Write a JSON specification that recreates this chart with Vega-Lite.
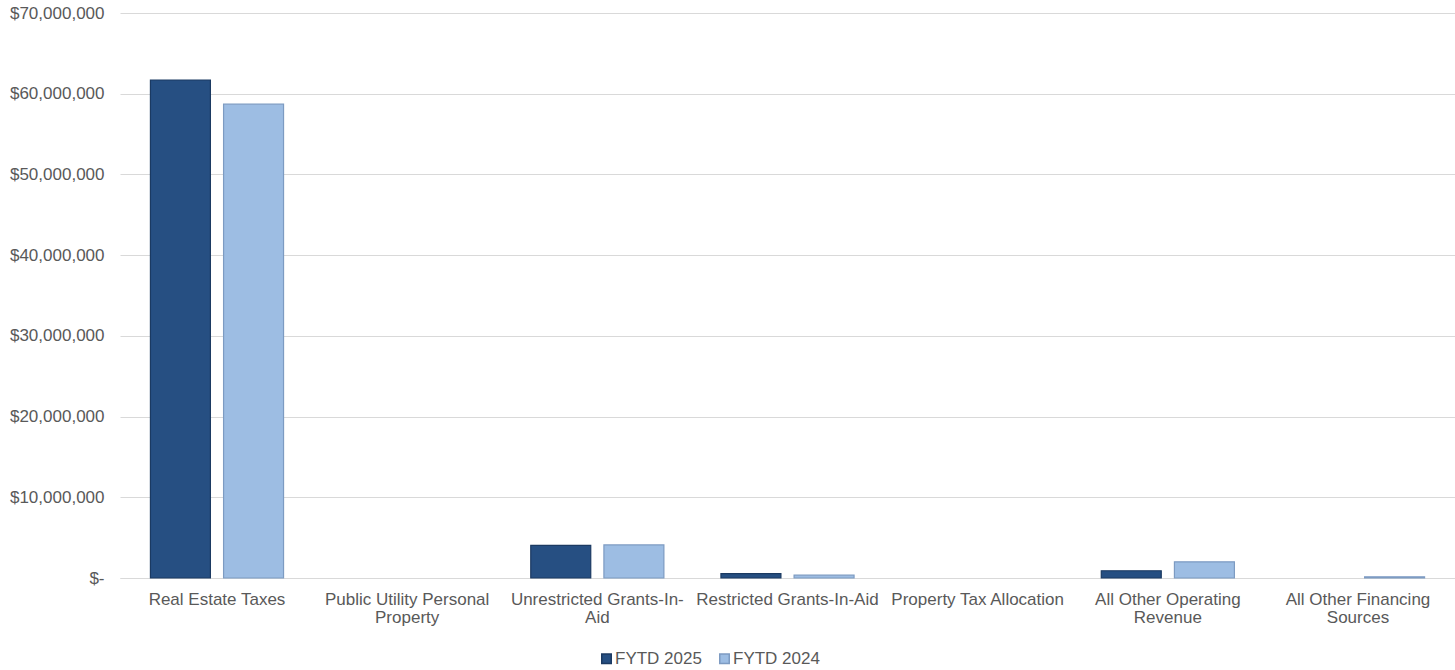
{
  "$schema": "https://vega.github.io/schema/vega-lite/v6.json",
  "width": 1335,
  "height": 565,
  "autosize": "none",
  "padding": {"left": 120, "top": 13, "right": 0, "bottom": 92},
  "background": "white",
  "config": {
    "font": "Liberation Sans",
    "view": {"stroke": null},
    "axis": {"labelFont": "Liberation Sans", "labelFontSize": 17, "labelColor": "#595959"},
    "legend": {"labelFont": "Liberation Sans", "labelFontSize": 17, "labelColor": "#595959"}
  },
  "data": {
    "values": [
      {"category": "Real Estate Taxes", "series": "FYTD 2025", "amount": 61700000},
      {"category": "Real Estate Taxes", "series": "FYTD 2024", "amount": 58700000},
      {"category": "Public Utility Personal Property", "series": "FYTD 2025", "amount": 0},
      {"category": "Public Utility Personal Property", "series": "FYTD 2024", "amount": 0},
      {"category": "Unrestricted Grants-In-Aid", "series": "FYTD 2025", "amount": 4050000},
      {"category": "Unrestricted Grants-In-Aid", "series": "FYTD 2024", "amount": 4100000},
      {"category": "Restricted Grants-In-Aid", "series": "FYTD 2025", "amount": 550000},
      {"category": "Restricted Grants-In-Aid", "series": "FYTD 2024", "amount": 350000},
      {"category": "Property Tax Allocation", "series": "FYTD 2025", "amount": 0},
      {"category": "Property Tax Allocation", "series": "FYTD 2024", "amount": 0},
      {"category": "All Other Operating Revenue", "series": "FYTD 2025", "amount": 900000},
      {"category": "All Other Operating Revenue", "series": "FYTD 2024", "amount": 2000000},
      {"category": "All Other Financing Sources", "series": "FYTD 2025", "amount": 0},
      {"category": "All Other Financing Sources", "series": "FYTD 2024", "amount": 150000}
    ]
  },
  "mark": {"type": "bar"},
  "encoding": {
    "x": {
      "field": "category",
      "type": "nominal",
      "sort": null,
      "scale": {"paddingInner": 0.3, "paddingOuter": 0.16},
      "axis": {
        "title": null,
        "labelAngle": 0,
        "ticks": false,
        "domainColor": "#d9d9d9",
        "labelPadding": 13,
        "labelLineHeight": 18,
        "labelLimit": 0,
        "labelOverlap": false,
        "labelExpr": "datum.label == 'Public Utility Personal Property' ? ['Public Utility Personal', 'Property'] : datum.label == 'Unrestricted Grants-In-Aid' ? ['Unrestricted Grants-In-', 'Aid'] : datum.label == 'All Other Operating Revenue' ? ['All Other Operating', 'Revenue'] : datum.label == 'All Other Financing Sources' ? ['All Other Financing', 'Sources'] : datum.label"
      }
    },
    "xOffset": {
      "field": "series",
      "type": "nominal",
      "sort": ["FYTD 2025", "FYTD 2024"],
      "scale": {"paddingInner": 0.18, "paddingOuter": 0}
    },
    "y": {
      "field": "amount",
      "type": "quantitative",
      "scale": {"domain": [0, 70000000]},
      "axis": {
        "title": null,
        "values": [0, 10000000, 20000000, 30000000, 40000000, 50000000, 60000000, 70000000],
        "domain": false,
        "ticks": false,
        "labelOverlap": false,
        "labelPadding": 16,
        "gridColor": "#d9d9d9",
        "labelExpr": "datum.value == 0 ? '$-' : '$' + format(datum.value, ',')"
      }
    },
    "color": {
      "field": "series",
      "type": "nominal",
      "sort": ["FYTD 2025", "FYTD 2024"],
      "scale": {"domain": ["FYTD 2025", "FYTD 2024"], "range": ["#264f82", "#9dbde3"]},
      "legend": {
        "title": null,
        "orient": "none",
        "direction": "horizontal",
        "legendX": 478,
        "legendY": 637,
        "symbolType": "square",
        "symbolSize": 90,
        "symbolOffset": 0,
        "labelOffset": 0,
        "columnPadding": 14
      }
    },
    "stroke": {
      "field": "series",
      "type": "nominal",
      "scale": {"domain": ["FYTD 2025", "FYTD 2024"], "range": ["#1b3a62", "#7d9bc2"]},
      "legend": null
    },
    "strokeWidth": {
      "condition": {"test": "datum.amount > 0", "value": 1.2},
      "value": 0
    }
  }
}
